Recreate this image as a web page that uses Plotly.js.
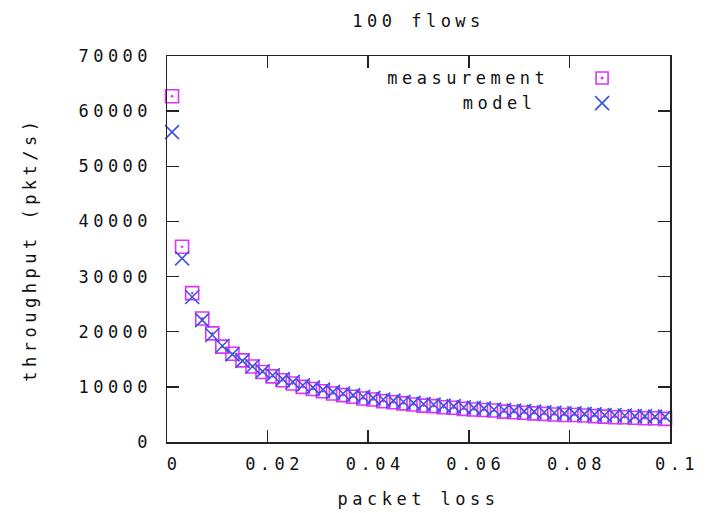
<!DOCTYPE html>
<html>
<head>
<meta charset="utf-8">
<script src="https://cdn.plot.ly/plotly-3.0.1.min.js"></script>
<style>
  html, body { margin: 0; padding: 0; background: #fff; }
  #chart { width: 707px; height: 513px; }
  #chart text { letter-spacing: 4.5px; }
</style>
</head>
<body>
<div id="chart"></div>
<script>
// packet loss (x)
const packetLoss = [
  0.001, 0.003, 0.005, 0.007, 0.009, 0.011, 0.013, 0.015, 0.017, 0.019,
  0.021, 0.023, 0.025, 0.027, 0.029, 0.031, 0.033, 0.035, 0.037, 0.039,
  0.041, 0.043, 0.045, 0.047, 0.049, 0.051, 0.053, 0.055, 0.057, 0.059,
  0.061, 0.063, 0.065, 0.067, 0.069, 0.071, 0.073, 0.075, 0.077, 0.079,
  0.081, 0.083, 0.085, 0.087, 0.089, 0.091, 0.093, 0.095, 0.097, 0.099
];
// measured throughput (pkt/s)
const measurement = [
  62700, 35400, 27000, 22400, 19700, 17300, 16000, 14800, 13700, 12700,
  11900, 11200, 10600, 10000, 9600, 9200, 8800, 8500, 8200, 7900,
  7700, 7400, 7200, 7000, 6800, 6600, 6500, 6300, 6200, 6000,
  5900, 5800, 5700, 5500, 5400, 5300, 5200, 5100, 5000, 4900,
  4900, 4800, 4700, 4600, 4500, 4500, 4400, 4300, 4300, 4200
];
// model throughput (pkt/s)
const model = [
  56200, 33300, 26300, 22100, 19400, 17400, 15900, 14700, 13700, 12800,
  12100, 11400, 10900, 10300, 9900, 9500, 9100, 8800, 8500, 8200,
  8000, 7700, 7500, 7300, 7100, 6900, 6800, 6600, 6500, 6300,
  6200, 6100, 5900, 5800, 5700, 5600, 5500, 5400, 5300, 5200,
  5200, 5100, 5000, 4900, 4900, 4800, 4700, 4700, 4600, 4600
];
const xTickVals = [0, 0.02, 0.04, 0.06, 0.08, 0.1];
const xTickText = ['0', '0.02', '0.04', '0.06', '0.08', '0.1'];
const yTickVals = [0, 10000, 20000, 30000, 40000, 50000, 60000, 70000];
const yTickText = ['0', '10000', '20000', '30000', '40000', '50000', '60000', '70000'];
const seriesNames = ['measurement', 'model'];
const xTitle = 'packet loss';
const yTitle = 'throughput (pkt/s)';

const colMeas = '#dd33ff';
const colModel = '#3a55dd';
const FONT = 'DejaVu Sans Mono, Liberation Mono, monospace';
const txtFont = { family: FONT, size: 17, color: '#111' };

const traces = [
  {
    x: packetLoss, y: measurement, name: seriesNames[0], type: 'scatter', mode: 'markers',
    cliponaxis: false,
    marker: { symbol: 'square-open-dot', size: 13, color: colMeas, line: { color: colMeas, width: 1.6 } }
  },
  {
    x: packetLoss, y: model, name: seriesNames[1], type: 'scatter', mode: 'markers',
    cliponaxis: false,
    marker: { symbol: 'x-thin-open', size: 14, color: colModel, line: { color: colModel, width: 1.6 } }
  }
];

const axisCommon = {
  showgrid: false, zeroline: false, showline: true, mirror: 'ticks',
  linecolor: '#222', linewidth: 1.5,
  ticks: 'inside', ticklen: 12, tickwidth: 1.5, tickcolor: '#222',
  tickfont: txtFont,
  automargin: false
};

// legend keys (gnuplot style: text then symbol)
const keyX = 0.865, keyY1 = 0.943, keyY2 = 0.878, textX = 0.716;
const shapes = [
  { type: 'rect', xref: 'paper', yref: 'paper', xsizemode: 'pixel', ysizemode: 'pixel',
    xanchor: keyX, yanchor: keyY1, x0: -6, x1: 6, y0: -6, y1: 6,
    line: { color: colMeas, width: 1.6 } },
  { type: 'rect', xref: 'paper', yref: 'paper', xsizemode: 'pixel', ysizemode: 'pixel',
    xanchor: keyX, yanchor: keyY1, x0: -1, x1: 1, y0: -1, y1: 1,
    line: { color: colMeas, width: 0.8 }, fillcolor: colMeas },
  { type: 'line', xref: 'paper', yref: 'paper', xsizemode: 'pixel', ysizemode: 'pixel',
    xanchor: keyX, yanchor: keyY2, x0: -7, x1: 7, y0: -7, y1: 7,
    line: { color: colModel, width: 1.6 } },
  { type: 'line', xref: 'paper', yref: 'paper', xsizemode: 'pixel', ysizemode: 'pixel',
    xanchor: keyX, yanchor: keyY2, x0: -7, x1: 7, y0: 7, y1: -7,
    line: { color: colModel, width: 1.6 } }
];
const annotations = [
  { text: seriesNames[0], xref: 'paper', yref: 'paper', x: textX, y: keyY1, xanchor: 'right', yanchor: 'middle',
    showarrow: false, font: txtFont },
  { text: seriesNames[1], xref: 'paper', yref: 'paper', x: textX, y: keyY2, xanchor: 'right', yanchor: 'middle',
    showarrow: false, font: txtFont },
  { text: yTitle, xref: 'paper', yref: 'paper', x: -0.272, y: 0.5, xanchor: 'center', yanchor: 'middle',
    textangle: -90, showarrow: false, font: txtFont }
];

const layout = {
  width: 707, height: 513,
  margin: { l: 167, r: 37, t: 56, b: 71 },
  paper_bgcolor: '#fff', plot_bgcolor: '#fff',
  showlegend: false,
  title: { text: '100 flows', x: 0.592, xanchor: 'center', y: 0.958, yanchor: 'middle', font: txtFont },
  xaxis: Object.assign({}, axisCommon, {
    range: [0, 0.1], tickvals: xTickVals, ticktext: xTickText, ticklabelstandoff: 6, ticklabelshift: 7,
    title: { text: xTitle, font: txtFont, standoff: 20 }
  }),
  yaxis: Object.assign({}, axisCommon, {
    range: [0, 70000], tickvals: yTickVals, ticktext: yTickText, ticklabelstandoff: 10
  }),
  shapes: shapes,
  annotations: annotations
};

Plotly.newPlot('chart', traces, layout, { staticPlot: true, displayModeBar: false });
</script>
</body>
</html>
